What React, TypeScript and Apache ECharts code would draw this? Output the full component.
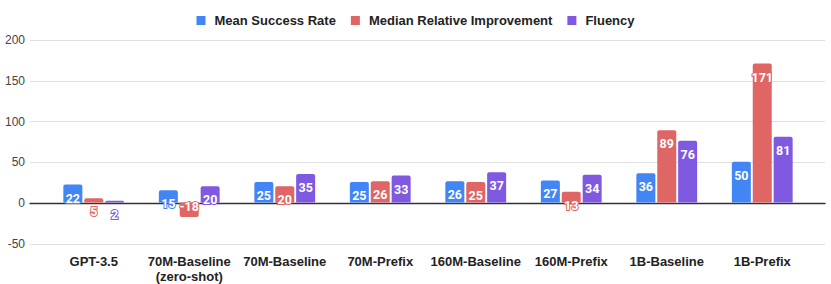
import React, { useEffect, useRef } from "react";
import * as echarts from "echarts";

const categories = [
  "GPT-3.5",
  "70M-Baseline\n(zero-shot)",
  "70M-Baseline",
  "70M-Prefix",
  "160M-Baseline",
  "160M-Prefix",
  "1B-Baseline",
  "1B-Prefix",
];
const meanSuccessRate = [22, 15, 25, 25, 26, 27, 36, 50];
const medianRelativeImprovement = [5, -18, 20, 26, 25, 13, 89, 171];
const fluency = [2, 20, 35, 33, 37, 34, 76, 81];
const seriesNames = ["Mean Success Rate", "Median Relative Improvement", "Fluency"];
const colors = ["#4285F4", "#E06666", "#7F59E0"];
const yMin = -50;
const yMax = 200;
const yInterval = 50;

const FONT = "'Liberation Sans', Arial, sans-serif";

function makeSeries(name: string, values: number[], color: string) {
  return {
    name,
    type: "bar",
    xAxisIndex: 1,
    yAxisIndex: 1,
    barWidth: 19,
    barGap: "10%",
    itemStyle: { color, borderRadius: [2, 2, 0, 0] },
    label: {
      show: true,
      position: "insideTop",
      distance: 7,
      color: "#fff",
      fontFamily: "Roboto, sans-serif",
      fontWeight: "bold",
      fontSize: 12.5,
      textBorderColor: color,
      textBorderWidth: 2,
    },
    data: values.map((v) =>
      v < 0
        ? { value: v, itemStyle: { borderRadius: [0, 0, 2, 2] }, label: { position: "insideBottom", distance: 4 } }
        : v
    ),
  };
}

export default function App() {
  const ref = useRef<HTMLDivElement>(null);
  useEffect(() => {
    document.body.style.margin = "0";
    const chart = echarts.init(ref.current!, null, { renderer: "svg" });
    chart.setOption({
      animation: false,
      backgroundColor: "#fff",
      color: colors,
      legend: {
        top: 9,
        left: "center",
        icon: "rect",
        itemWidth: 9,
        itemHeight: 9,
        itemGap: 15,
        data: seriesNames,
        textStyle: {
          fontFamily: FONT,
          fontWeight: "bold",
          fontSize: 13,
          color: "#222",
          padding: [0, 0, 0, 4],
        },
      },
      grid: [
        { left: 30, right: 6, top: 40, bottom: 40 },
        { left: 46, right: 21, top: 40, bottom: 40 },
      ],
      xAxis: [
        {
          gridIndex: 0,
          type: "category",
          data: [""],
          axisLine: { show: true, onZero: true, lineStyle: { color: "#333", width: 1.3 } },
          axisTick: { show: false },
          axisLabel: { show: false },
          splitLine: { show: false },
        },
        {
          gridIndex: 1,
          type: "category",
          data: categories,
          axisLine: { show: false, onZero: false },
          axisTick: { show: false },
          axisLabel: {
            interval: 0,
            margin: 11,
            fontFamily: FONT,
            fontWeight: "bold",
            fontSize: 13,
            color: "#222",
            lineHeight: 15,
          },
        },
      ],
      yAxis: [
        {
          gridIndex: 0,
          type: "value",
          min: yMin,
          max: yMax,
          interval: yInterval,
          axisLine: { show: false },
          axisTick: { show: false },
          axisLabel: { margin: 5, fontFamily: FONT, fontSize: 12, color: "#444" },
          splitLine: { lineStyle: { color: "#e0e0e0", width: 1 } },
        },
        {
          gridIndex: 1,
          type: "value",
          min: yMin,
          max: yMax,
          interval: yInterval,
          show: false,
          splitLine: { show: false },
        },
      ],
      series: [
        makeSeries(seriesNames[0], meanSuccessRate, colors[0]),
        makeSeries(seriesNames[1], medianRelativeImprovement, colors[1]),
        makeSeries(seriesNames[2], fluency, colors[2]),
      ],
    });
    return () => chart.dispose();
  }, []);
  return <div ref={ref} style={{ width: 831, height: 284 }} />;
}
